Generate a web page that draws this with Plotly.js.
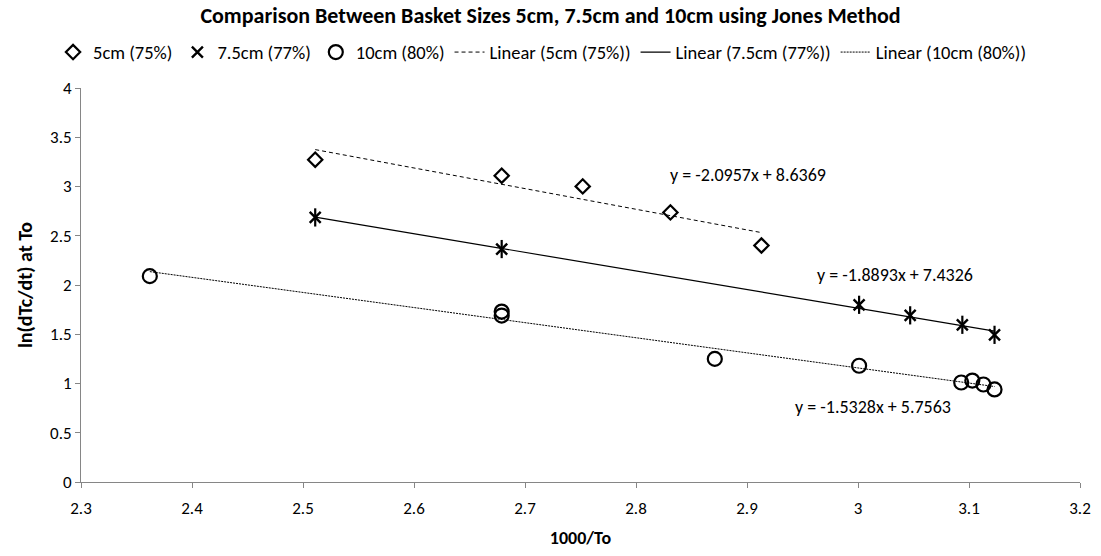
<!DOCTYPE html>
<html>
<head>
<meta charset="utf-8">
<script src="https://cdn.plot.ly/plotly-3.0.1.min.js"></script>
<style>html,body{margin:0;padding:0;background:#fff;}#chart{width:1101px;height:556px;}</style>
</head>
<body>
<div id="chart"></div>
<script>
// ---- data ----
const x5 = [2.511, 2.679, 2.752, 2.831, 2.913];
const y5 = [3.272, 3.110, 3.001, 2.737, 2.401];

const x75 = [2.511, 2.679, 3.001, 3.047, 3.094, 3.123];
const y75 = [2.686, 2.365, 1.799, 1.692, 1.596, 1.494];

const x10 = [2.362, 2.679, 2.679, 2.871, 3.001, 3.093, 3.103, 3.113, 3.123];
const y10 = [2.09, 1.73, 1.69, 1.25, 1.18, 1.01, 1.03, 0.99, 0.94];

const seriesNames = ['5cm (75%)', '7.5cm (77%)', '10cm (80%)'];
const slopes = [-2.0957, -1.8893, -1.5328];
const intercepts = [8.6369, 7.4326, 5.7563];
const eqLabels = ['y = -2.0957x + 8.6369', 'y = -1.8893x + 7.4326', 'y = -1.5328x + 5.7563'];
const eqX = [2.829, 2.961, 2.941];
const eqY = [3.12, 2.10, 0.765];

const xTicks = [2.3, 2.4, 2.5, 2.6, 2.7, 2.8, 2.9, 3, 3.1, 3.2];
const yTicks = [0, 0.5, 1, 1.5, 2, 2.5, 3, 3.5, 4];

// ---- chart ----
const FONT = 'Carlito, Calibri, "Liberation Sans Narrow", Lato, "Open Sans", sans-serif';
const xs = [x5, x75, x10];

function trend(i) {
  const lo = Math.min(...xs[i]), hi = Math.max(...xs[i]);
  return {x: [lo, hi], y: [slopes[i] * lo + intercepts[i], slopes[i] * hi + intercepts[i]]};
}

const traces = [
  {x: x5, y: y5, name: seriesNames[0], mode: 'markers', type: 'scatter',
   marker: {symbol: 'diamond-open', size: 11, color: '#000', line: {color: '#000', width: 2.2}}},
  {x: x75, y: y75, name: seriesNames[1], mode: 'markers', type: 'scatter', legendgroup: 's75',
   marker: {symbol: 'x-thin-open', size: 11, color: '#000', line: {color: '#000', width: 2.4}}},
  {x: x10, y: y10, name: seriesNames[2], mode: 'markers', type: 'scatter',
   marker: {symbol: 'circle-open', size: 14, color: '#000', line: {color: '#000', width: 2.2}}},
];
const t0 = trend(0), t1 = trend(1), t2 = trend(2);
traces.push({x: t0.x, y: t0.y, name: 'Linear (' + seriesNames[0] + ')', mode: 'lines', type: 'scatter',
  line: {color: '#000', width: 1, dash: '4px,3px'}});
traces.push({x: t1.x, y: t1.y, name: 'Linear (' + seriesNames[1] + ')', mode: 'lines', type: 'scatter',
  line: {color: '#000', width: 1.2}});
traces.push({x: t2.x, y: t2.y, name: 'Linear (' + seriesNames[2] + ')', mode: 'lines', type: 'scatter',
  line: {color: '#000', width: 1, dash: '2px,1px'}});
// vertical stroke completing the star marker
traces.push({x: x75, y: y75, name: seriesNames[1], mode: 'markers', type: 'scatter', legendgroup: 's75',
  showlegend: false, marker: {symbol: 'line-ns-open', size: 13, color: '#000', line: {color: '#000', width: 2.2}}});

const layout = {
  width: 1101, height: 556,
  margin: {l: 81, r: 21, t: 88, b: 74},
  paper_bgcolor: '#fff', plot_bgcolor: '#fff',
  font: {family: FONT, size: 17, color: '#000'},
  title: {text: '<b>Comparison Between Basket Sizes 5cm, 7.5cm and 10cm using Jones Method</b>',
          font: {family: FONT, size: 22, color: '#000'}, x: 0.5, xanchor: 'center', y: 0.973, yanchor: 'middle'},
  showlegend: true,
  legend: {orientation: 'h', x: 0.462, xanchor: 'center', y: 1.09, yanchor: 'middle',
           font: {family: FONT, size: 18.5, color: '#000'}, traceorder: 'normal', itemwidth: 30,
           bgcolor: 'rgba(0,0,0,0)'},
  xaxis: {range: [2.3, 3.2], tickvals: xTicks, ticktext: xTicks.map(String), showgrid: false, zeroline: false,
          showline: true, linecolor: '#868686', linewidth: 1, ticks: 'outside', tickcolor: '#868686', ticklen: 5,
          ticklabelstandoff: 6,
          tickfont: {family: FONT, size: 17, color: '#000'},
          title: {text: '<b>1000/To</b>', font: {family: FONT, size: 18, color: '#000'}, standoff: 12}},
  yaxis: {range: [0, 4], tickvals: yTicks, ticktext: yTicks.map(String), showgrid: false, zeroline: false,
          showline: true, linecolor: '#868686', linewidth: 1, ticks: 'outside', tickcolor: '#868686', ticklen: 5,
          tickfont: {family: FONT, size: 17, color: '#000'},
          title: {text: '<b>ln(dTc/dt) at To</b>', font: {family: FONT, size: 20, color: '#000'}, standoff: 12}},
  annotations: eqLabels.map((t, i) => ({x: eqX[i], y: eqY[i], text: t, showarrow: false, xanchor: 'left',
      xref: 'x', yref: 'y', font: {family: FONT, size: 18, color: '#000'}}))
};
Plotly.newPlot('chart', traces, layout, {displayModeBar: false, staticPlot: true});
</script>
</body>
</html>
